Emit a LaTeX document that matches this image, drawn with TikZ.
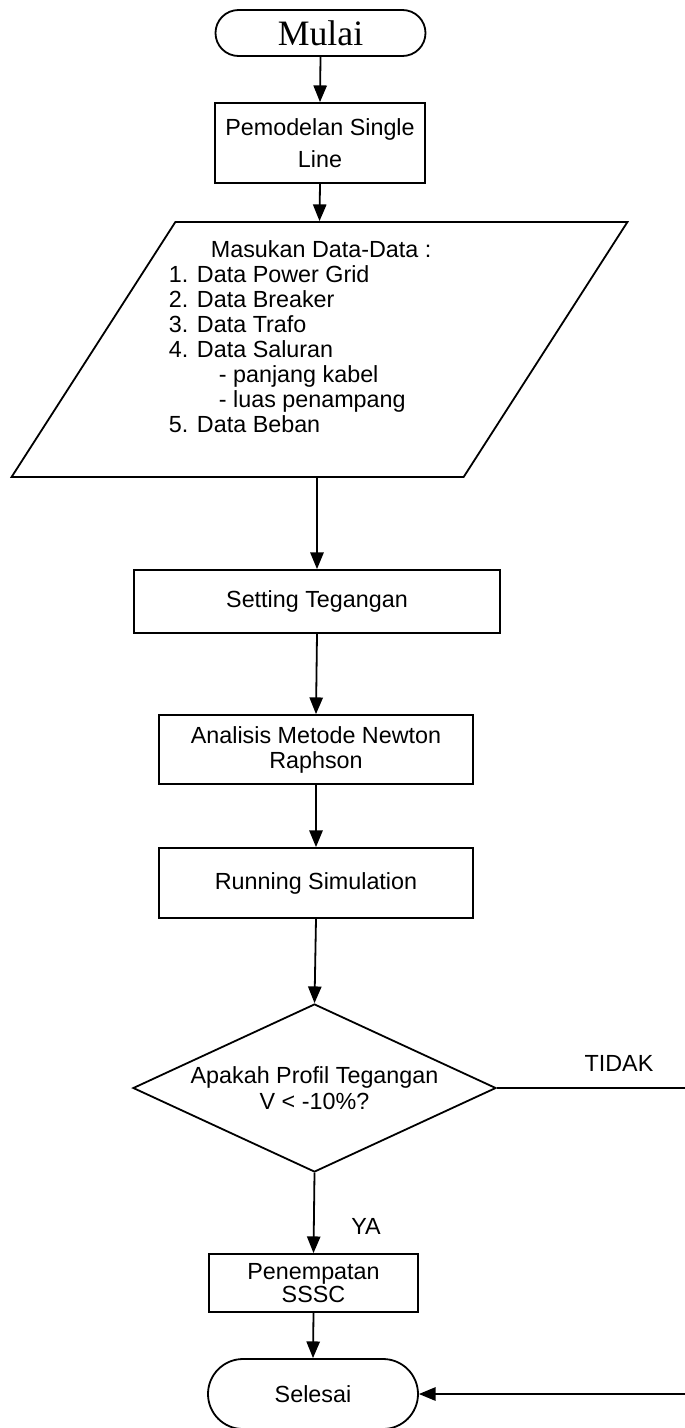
\documentclass[tikz,border=0pt]{standalone}
\usepackage{fontspec}
\setmainfont{Liberation Sans}
\newfontfamily\mulaifont{Liberation Serif}
\usetikzlibrary{shapes.geometric,shapes.misc,arrows.meta}

\tikzset{every picture/.style={line width=1.35pt}}
\tikzset{
  flowtext/.style={font={\fontsize{17.5}{18.75}\selectfont}, align=center, inner sep=0pt},
  procbox/.style={draw, rectangle, flowtext},
  termbox/.style={draw, rounded rectangle, flowtext},
  flowarrow/.style={-{Triangle[length=12.5pt,width=10pt]}},
}

\begin{document}
\begin{tikzpicture}[x=0.75pt,y=0.75pt,yscale=-1,xscale=1]
	\useasboundingbox (0,0) rectangle (685,1428);

	% Terminal: Mulai
	\node[termbox, minimum width=157.5pt, minimum height=34.5pt, font={\mulaifont\fontsize{26.8}{28}\selectfont}] (start) at (320.5,33) {Mulai};
	% Process: model
	\node[procbox, minimum width=157.5pt, minimum height=60pt, font={\fontsize{17.5}{24}\selectfont}] (model) at (320,143) {Pemodelan Single\\Line};
	% Input data
	\node[draw, trapezium, trapezium left angle=60.4, trapezium right angle=119.6, trapezium stretches=true, minimum width=462pt, minimum height=191.25pt, inner sep=4pt] (input) at (319.5,349.5) {};
	\node[flowtext, align=left, anchor=north west] (inputtext) at (168,240) {\hspace*{31.5pt}Masukan Data-Data :\\
		1. Data Power Grid\\
		2. Data Breaker\\
		3. Data Trafo\\
		4. Data Saluran\\
		\hspace*{37.5pt}- panjang kabel\\
		\hspace*{37.5pt}- luas penampang\\
		5. Data Beban};
	% Process steps
	\node[procbox, minimum width=274.5pt, minimum height=47.25pt] (volt) at (317,601.5) {Setting Tegangan};
	\node[procbox, minimum width=235.5pt, minimum height=51.75pt] (newton) at (316,749.5) {Analisis Metode Newton\\Raphson};
	\node[procbox, minimum width=235.5pt, minimum height=52.5pt] (sim) at (316,883) {Running Simulation};
	% Decision
	\node[draw, diamond, shape aspect=2.16, minimum width=272.25pt, minimum height=126pt, flowtext, font={\fontsize{17.5}{19.5}\selectfont}] (cond) at (314.5,1088) {Apakah Profil Tegangan\\V < -10\%?};
	\node[procbox, minimum width=156.75pt, minimum height=43.5pt, font={\fontsize{17.5}{17.25}\selectfont}] (sssc) at (313.5,1283) {Penempatan\\SSSC};
	% Terminal: Selesai
	\node[termbox, minimum width=157.5pt, minimum height=52.5pt] (finish) at (313,1394) {Selesai};

	% Branch labels
	\node[flowtext] (no) at (619,1063) {TIDAK};
	\node[flowtext] (yes) at (366,1226) {YA};
	\coordinate (loopx) at (695,0);

	% Connectors
	\draw[flowarrow] (start.south) -- (model.north);
	\draw[flowarrow] (model.south) -- (input.north);
	\draw[flowarrow] (volt.north |- input.south) -- (volt.north);
	\draw[flowarrow] (volt.south) -- (newton.north);
	\draw[flowarrow] (newton.south) -- (sim.north);
	\draw[flowarrow] (sim.south) -- (cond.north);
	\draw[flowarrow] (cond.south) -- (sssc.north);
	\draw[flowarrow] (sssc.south) -- (finish.north);
	\draw[flowarrow] (cond.east) -- (cond.east -| loopx) -- (finish.east -| loopx) -- (finish.east);

\end{tikzpicture}
\end{document}
